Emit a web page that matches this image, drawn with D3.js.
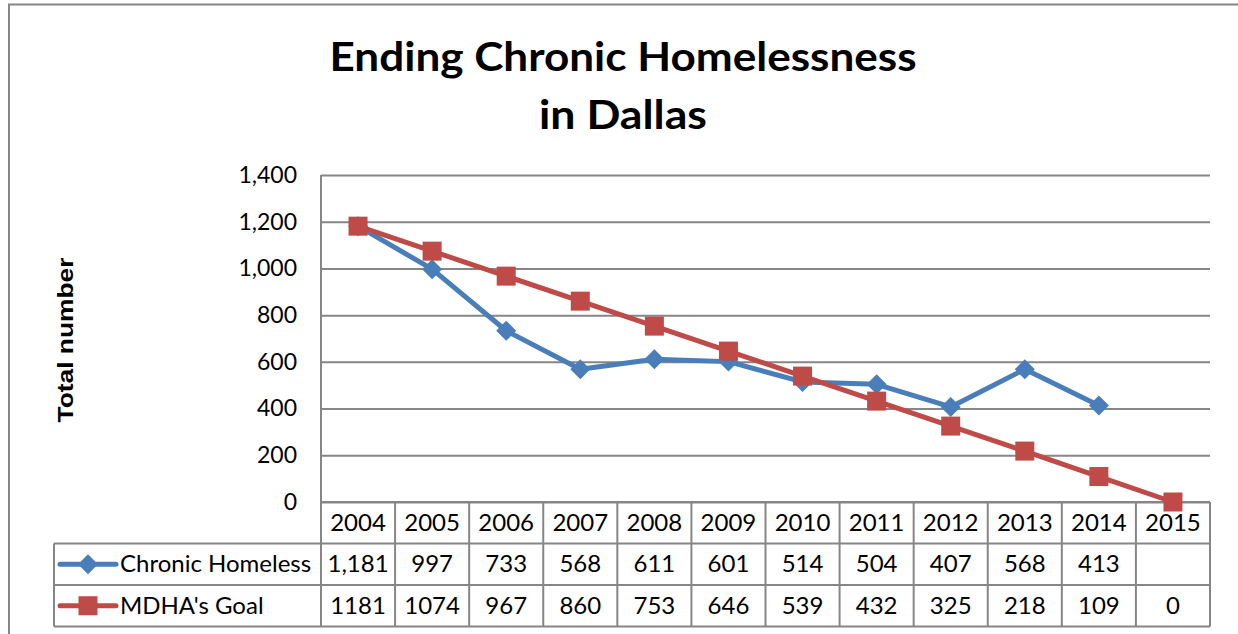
<!DOCTYPE html>
<html>
<head>
<meta charset="utf-8">
<script src="https://cdnjs.cloudflare.com/ajax/libs/d3/7.8.5/d3.min.js"></script>
<style>
  html, body { margin: 0; padding: 0; background: #fff; }
  svg { display: block; }
</style>
</head>
<body>
<svg id="chart" width="1238" height="634"></svg>
<script>
// Chart data
const years = ["2004","2005","2006","2007","2008","2009","2010","2011","2012","2013","2014","2015"];
const chronicHomeless = [1181, 997, 733, 568, 611, 601, 514, 504, 407, 568, 413, null];
const mdhaGoal = [1181, 1074, 967, 860, 753, 646, 539, 432, 325, 218, 109, 0];
const chronicLabels = ["1,181","997","733","568","611","601","514","504","407","568","413",""];
const goalLabels = ["1181","1074","967","860","753","646","539","432","325","218","109","0"];
const yTicks = [0, 200, 400, 600, 800, 1000, 1200, 1400];
const seriesNames = ["Chronic Homeless", "MDHA's Goal"];

const svg = d3.select("#chart");
const W = 1238, H = 634;
const plot = { left: 321, right: 1210, top: 175, bottom: 502 };
const rowH = 41.5;
const legendLeft = 54;
const gridColor = "#868686";
const blue = "#4A7EBB", red = "#BE4B48";
const bodyFont = "Lato, 'Open Sans', sans-serif";

// Outer chart border
svg.append("rect")
  .attr("x", 9).attr("y", 4.5)
  .attr("width", W + 20).attr("height", H + 20)
  .attr("fill", "none").attr("stroke", gridColor).attr("stroke-width", 2);

// Title
const title = svg.append("text")
  .attr("text-anchor", "middle")
  .attr("font-family", bodyFont)
  .attr("font-weight", "bold")
  .attr("font-size", 40)
  .attr("fill", "#000");
title.append("tspan").attr("x", 623).attr("y", 71).text("Ending Chronic Homelessness")
  .attr("textLength", 587).attr("lengthAdjust", "spacingAndGlyphs");
title.append("tspan").attr("x", 623).attr("y", 129).text("in Dallas")
  .attr("textLength", 168).attr("lengthAdjust", "spacingAndGlyphs");

// Scales
const x = d3.scaleBand().domain(years).range([plot.left, plot.right]);
const y = d3.scaleLinear().domain([0, 1400]).range([plot.bottom, plot.top]);
const cx = d => x(d) + x.bandwidth() / 2;

// Horizontal gridlines and value axis labels
const yAxis = d3.axisLeft(y).tickValues(yTicks).tickSize(-(plot.right - plot.left))
  .tickFormat(d3.format(","));
const gy = svg.append("g").attr("transform", `translate(${plot.left},0)`).call(yAxis);
gy.select(".domain").remove();
gy.selectAll(".tick line").attr("stroke", gridColor).attr("stroke-width", 2);
gy.selectAll(".tick text")
  .attr("x", -24)
  .attr("font-family", bodyFont)
  .attr("font-size", 23)
  .attr("fill", "#000");

// Axis title
svg.append("text")
  .attr("transform", "translate(73,340) rotate(-90)")
  .attr("text-anchor", "middle")
  .attr("font-family", "'Liberation Sans', Arial, sans-serif")
  .attr("font-weight", "bold")
  .attr("font-size", 22)
  .attr("fill", "#000")
  .attr("textLength", 165).attr("lengthAdjust", "spacingAndGlyphs")
  .text("Total number");

// Plot area left edge
svg.append("line")
  .attr("x1", plot.left).attr("x2", plot.left)
  .attr("y1", plot.top).attr("y2", plot.bottom)
  .attr("stroke", gridColor).attr("stroke-width", 2);

// Data table grid
const tableTop = plot.bottom;
const tableBottom = tableTop + rowH * 3;
const tbl = svg.append("g");
const gridLine = (x1, y1, x2, y2) => tbl.append("line")
  .attr("x1", x1).attr("y1", y1).attr("x2", x2).attr("y2", y2)
  .attr("stroke", gridColor).attr("stroke-width", 2);
// vertical separators between categories
const vEdges = years.map(d => x(d)).concat([plot.right]);
vEdges.forEach(vx => gridLine(vx, tableTop, vx, tableBottom));
// horizontal rules
gridLine(plot.left, tableTop, plot.right, tableTop);
[1, 2, 3].forEach(i => gridLine(legendLeft, tableTop + rowH * i, plot.right, tableTop + rowH * i));
gridLine(legendLeft, tableTop + rowH, legendLeft, tableBottom);

// Table text
const textStyle = sel => sel.attr("font-family", bodyFont).attr("font-size", 24).attr("fill", "#000");
tbl.selectAll("text.year").data(years).enter().append("text")
  .attr("x", d => cx(d)).attr("y", tableTop + rowH / 2 + 8)
  .attr("text-anchor", "middle").call(textStyle).text(d => d);
tbl.selectAll("text.chronic").data(years).enter().append("text")
  .attr("x", d => cx(d)).attr("y", tableTop + rowH * 1.5 + 8)
  .attr("text-anchor", "middle").call(textStyle).text((d, i) => chronicLabels[i]);
tbl.selectAll("text.goal").data(years).enter().append("text")
  .attr("x", d => cx(d)).attr("y", tableTop + rowH * 2.5 + 8)
  .attr("text-anchor", "middle").call(textStyle).text((d, i) => goalLabels[i]);

// Marker shapes
const drawDiamond = (g, px, py) => g.append("path").attr("d", d3.symbol().type(d3.symbolSquare).size(200)())
  .attr("transform", `translate(${px},${py}) rotate(45)`).attr("fill", blue);
const drawSquare = (g, px, py) => g.append("path").attr("d", d3.symbol().type(d3.symbolSquare).size(361)())
  .attr("transform", `translate(${px},${py})`).attr("fill", red);

// Legend keys in table
const keys = svg.append("g");
[[blue, drawDiamond], [red, drawSquare]].forEach(([col, mk], i) => {
  const ky = tableTop + rowH * (1.5 + i);
  keys.append("line").attr("x1", 60).attr("x2", 116).attr("y1", ky).attr("y2", ky)
    .attr("stroke", col).attr("stroke-width", 5).attr("stroke-linecap", "round");
  mk(keys, 88, ky);
  keys.append("text").attr("x", 120).attr("y", ky + 8).call(textStyle).text(seriesNames[i]);
});

// Series lines
const line = d3.line()
  .defined(d => d.v !== null)
  .x(d => cx(d.year)).y(d => y(d.v));
const series = [
  { vals: chronicHomeless, color: blue, mk: drawDiamond },
  { vals: mdhaGoal, color: red, mk: drawSquare }
];
series.forEach(s => {
  const pts = years.map((yr, i) => ({ year: yr, v: s.vals[i] }));
  const g = svg.append("g");
  g.append("path").datum(pts).attr("d", line)
    .attr("fill", "none").attr("stroke", s.color).attr("stroke-width", 5)
    .attr("stroke-linejoin", "round");
  pts.filter(p => p.v !== null).forEach(p => s.mk(g, cx(p.year), y(p.v)));
});
</script>
</body>
</html>
